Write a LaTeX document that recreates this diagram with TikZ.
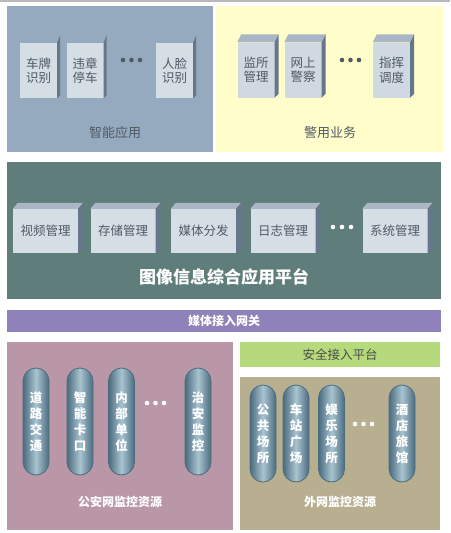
\documentclass[tikz,border=0pt]{standalone}
\usepackage{fontspec}
\setmainfont{Noto Sans CJK SC}
\definecolor{appblue}{HTML}{95AABE}
\definecolor{policeyellow}{HTML}{FFFDC9}
\definecolor{platteal}{HTML}{5F7D7A}
\definecolor{gatepurple}{HTML}{8F81B9}
\definecolor{psbmauve}{HTML}{B997A7}
\definecolor{safegreen}{HTML}{B5DA7B}
\definecolor{extbeige}{HTML}{B8AF90}
\definecolor{cardfront}{HTML}{D5DDE5}
\definecolor{cardtop}{HTML}{A9B6C5}
\definecolor{cardside}{HTML}{66768B}
\definecolor{capedge}{HTML}{4A6C80}
\definecolor{capmid}{HTML}{A9C3CF}
\definecolor{darktext}{HTML}{505A64}

\begin{document}
\begin{tikzpicture}[x=1pt, y=-1pt]
        \tikzstyle{every node}=[inner sep=0pt, align=center]
        \tikzstyle{card}=[fill=cardfront, minimum width=37pt, minimum height=55pt, font=\fontsize{12.5}{14.5}\selectfont, text=darktext]
        \tikzstyle{slab}=[fill=cardfront, minimum width=65pt, minimum height=44pt, font=\fontsize{12.5}{14}\selectfont, text=darktext]
        \tikzstyle{pill}=[draw=capedge, line width=0.8pt, rounded corners=13pt, minimum width=26pt, left color=capedge, right color=capedge, middle color=capmid, text=white, font=\bfseries\fontsize{12.5}{16}\selectfont]
        \tikzstyle{caption}=[font=\fontsize{13}{15}\selectfont, text=darktext]
        \tikzstyle{wcaption}=[font=\bfseries\fontsize{12}{14}\selectfont, text=white]
        \useasboundingbox (0,0) rectangle (450,533);
        \fill[white] (0,0) rectangle (450,533);
        \draw[gray!55, line width=1.5pt] (0,0.75) -- (450,0.75);
        % panels
        \fill[appblue] (7,6) rectangle (213,152);
        \fill[policeyellow] (216,6) rectangle (443,152);
        \fill[platteal] (7,162) rectangle (441,299);
        \fill[gatepurple] (7,310) rectangle (441,332);
        \fill[psbmauve] (7,342) rectangle (233,530);
        \fill[safegreen] (240,342) rectangle (440,367);
        \fill[extbeige] (240,377) rectangle (440,530);
        % smart applications
        \node [card] (plate) at (38.5,70.5) {车牌\\识别};
        \node [card] (parking) at (85,70.5) {违章\\停车};
        \node [card] (face) at (174.5,70.5) {人脸\\识别};
        \foreach \n in {plate,parking,face}
            \fill[cardside] (\n.north east) -- ++(3,-8) -- ([shift={(3,-3)}]\n.south east) -- (\n.south east) -- cycle;
        \foreach \x in {123,131.5,140} \fill[darktext] (\x,60) circle (2.3pt);
        \node [caption] (smart) at (115,133) {智能应用};
        % police business
        \node [card, fill=cardfront!92!appblue] (prison) at (256,70) {监所\\管理};
        \node [card, fill=cardfront!92!appblue] (cyber) at (303,70) {网上\\警察};
        \node [card, fill=cardfront!92!appblue] (command) at (391.5,70) {指挥\\调度};
        \foreach \n in {prison,cyber,command} {
            \fill[cardtop] (\n.north west) -- ++(4,-8) -- ([shift={(4,-8)}]\n.north east) -- (\n.north east) -- cycle;
            \fill[cardside] (\n.north east) -- ++(4,-8) -- ([shift={(4,-4)}]\n.south east) -- (\n.south east) -- cycle;
        }
        \foreach \x in {342,350.5,359} \fill[darktext] (\x,60) circle (2.3pt);
        \node [caption] (police) at (330,133) {警用业务};
        % platform
        \node [slab] (video) at (45.5,231) {视频管理};
        \node [slab] (storage) at (123,231) {存储管理};
        \node [slab] (media) at (203.5,231) {媒体分发};
        \node [slab] (logs) at (283,231) {日志管理};
        \node [slab] (system) at (395,231) {系统管理};
        \foreach \n in {video,storage,media,logs,system} {
            \fill[cardtop] (\n.north west) -- ++(5,-6) -- ([shift={(5,-6)}]\n.north east) -- (\n.north east) -- cycle;
            \fill[cardside] (\n.north east) -- ++(5,-6) -- ([shift={(5,-4)}]\n.south east) -- (\n.south east) -- cycle;
        }
        \foreach \x in {333,342,351} \fill[white] (\x,227) circle (2.3pt);
        \node [wcaption, font=\bfseries\fontsize{17}{20}\selectfont] (platform) at (224,277) {图像信息综合应用平台};
        % gateways
        \node [wcaption] (gateway) at (224,321) {媒体接入网关};
        \node [caption, text=black!70, font=\fontsize{12.5}{14}\selectfont] (safe) at (340,354.5) {安全接入平台};
        % public security resources
        \node [pill, minimum height=107pt] (road) at (36,421.5) {道\\路\\交\\通};
        \node [pill, minimum height=107pt] (bayonet) at (80,421.5) {智\\能\\卡\\口};
        \node [pill, minimum height=107pt] (inner) at (121.5,421.5) {内\\部\\单\\位};
        \node [pill, minimum height=107pt] (order) at (198,421.5) {治\\安\\监\\控};
        \foreach \x in {147,155.5,164} \fill[white] (\x,403) circle (2.3pt);
        \node [wcaption] (psbres) at (120,502) {公安网监控资源};
        % external resources
        \node [pill, minimum height=97pt] (public) at (263,433.5) {公\\共\\场\\所};
        \node [pill, minimum height=97pt] (station) at (296,433.5) {车\\站\\广\\场};
        \node [pill, minimum height=97pt] (leisure) at (331.5,433.5) {娱\\乐\\场\\所};
        \node [pill, minimum height=97pt] (hotel) at (402,433.5) {酒\\店\\旅\\馆};
        \foreach \x in {355,363.5,372} \fill[white] (\x,424) circle (2.3pt);
        \node [wcaption] (extres) at (340,502) {外网监控资源};
    \end{tikzpicture}
\end{document}
